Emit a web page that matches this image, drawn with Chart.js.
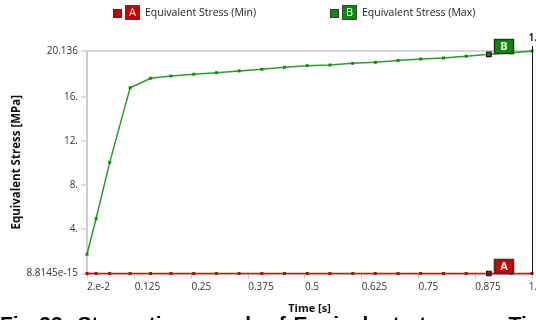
<!DOCTYPE html>
<html>
<head>
<meta charset="utf-8">
<script src="https://cdn.jsdelivr.net/npm/chart.js@4.4.1/dist/chart.umd.min.js"></script>
<style>
  html, body { margin: 0; padding: 0; background: #fff; overflow: hidden; }
  #wrap { position: relative; width: 536px; height: 320px; overflow: hidden; background: #fff; }
  #c { position: absolute; left: 0; top: 0; }
  #cap {
    position: absolute; left: 0; top: 313px; white-space: nowrap;
    font-family: "Liberation Sans", Arial, sans-serif; font-weight: bold;
    font-size: 21px; line-height: 1; word-spacing: 2px; color: #000;
  }
</style>
</head>
<body>
<div id="wrap">
  <canvas id="c" width="536" height="320"></canvas>
  <div id="cap">Fig 33: Stress-time graph of Equivalent stress vs Time</div>
</div>
<script>
// Solver output: equivalent stress vs time
const times = [0.02, 0.04, 0.07, 0.115, 0.16, 0.205, 0.255, 0.305, 0.355, 0.405, 0.455,
               0.505, 0.555, 0.605, 0.655, 0.705, 0.755, 0.805, 0.855, 0.905, 0.955, 1.0];
const stressMin = [8.8145e-15, 8.8145e-15, 8.8145e-15, 8.8145e-15, 8.8145e-15, 8.8145e-15,
                   8.8145e-15, 8.8145e-15, 8.8145e-15, 8.8145e-15, 8.8145e-15, 8.8145e-15,
                   8.8145e-15, 8.8145e-15, 8.8145e-15, 8.8145e-15, 8.8145e-15, 8.8145e-15,
                   8.8145e-15, 8.8145e-15, 8.8145e-15, 8.8145e-15];
const stressMax = [1.74, 4.96, 10.06, 16.81, 17.67, 17.87, 18.03, 18.17, 18.33, 18.48, 18.66,
                   18.81, 18.87, 19.02, 19.11, 19.28, 19.41, 19.50, 19.66, 19.84, 19.98, 20.136];
const seriesNames = ['Equivalent Stress (Min)', 'Equivalent Stress (Max)'];
const seriesTags = ['A', 'B'];
const xTicks = [0.02, 0.125, 0.25, 0.375, 0.5, 0.625, 0.75, 0.875, 1.0];
const xTickLabels = ['2.e-2', '0.125', '0.25', '0.375', '0.5', '0.625', '0.75', '0.875', '1.'];
const yTicks = [8.8145e-15, 4, 8, 12, 16, 20.136];
const yTickLabels = ['8.8145e-15', '4.', '8.', '12.', '16.', '20.136'];
const probeTime = 0.905;
const probeIndex = times.indexOf(probeTime);

const FONT = "'Open Sans', sans-serif";
Chart.defaults.font.family = FONT;

const lineColors = ['#cc1010', '#2f992f'];
const pointColors = ['#b80000', '#0f8a0f'];
const tagFill = ['#cc0000', '#0a8a0a'];

function toPoints(ys) { return times.map((t, i) => ({ x: t, y: ys[i] })); }

function makeDataset(i, ys) {
  return {
    label: seriesNames[i],
    data: toPoints(ys),
    borderColor: lineColors[i],
    backgroundColor: pointColors[i],
    borderWidth: 1.5,
    pointStyle: 'rect',
    pointRadius: ctx => ctx.dataIndex === probeIndex ? 3.2 : 2.1,
    pointBorderWidth: ctx => ctx.dataIndex === probeIndex ? 1.2 : 0,
    pointBorderColor: ctx => ctx.dataIndex === probeIndex ? '#111' : pointColors[i],
    pointBackgroundColor: pointColors[i],
    tension: 0,
    clip: false
  };
}

// Legend row with lettered tags
const legendPlugin = {
  id: 'taggedLegend',
  afterDraw(chart) {
    const ctx = chart.ctx;
    const slots = [113, 330];
    ctx.save();
    chart.data.datasets.forEach((ds, i) => {
      const x0 = slots[i];
      ctx.fillStyle = tagFill[i];
      ctx.fillRect(x0, 9, 8, 8);
      ctx.strokeStyle = '#333';
      ctx.lineWidth = 1;
      ctx.strokeRect(x0 + 0.5, 9.5, 8, 8);
      // tag box
      ctx.fillStyle = tagFill[i];
      ctx.fillRect(x0 + 12, 5, 15, 15);
      ctx.strokeStyle = '#444';
      ctx.strokeRect(x0 + 12.5, 5.5, 14, 14);
      ctx.fillStyle = '#fff';
      ctx.font = '11px ' + FONT;
      ctx.textAlign = 'center';
      ctx.textBaseline = 'middle';
      ctx.fillText(seriesTags[i], x0 + 19.5, 13);
      ctx.fillStyle = '#222';
      ctx.textAlign = 'left';
      ctx.font = '10.5px ' + FONT;
      ctx.fillText(ds.label, x0 + 32, 13.5);
    });
    ctx.restore();
  }
};

// Probe tags next to the marked time step, right frame edge
const probePlugin = {
  id: 'probeTags',
  afterDatasetsDraw(chart) {
    const ctx = chart.ctx;
    ctx.save();
    chart.data.datasets.forEach((ds, i) => {
      const el = chart.getDatasetMeta(i).data[probeIndex];
      if (!el) return;
      const bx = Math.round(el.x) + 5, by = Math.round(el.y) - 15;
      ctx.fillStyle = tagFill[i];
      ctx.fillRect(bx, by, 20, 15);
      ctx.strokeStyle = '#333';
      ctx.lineWidth = 1.5;
      ctx.strokeRect(bx + 0.5, by + 0.5, 19, 14);
      ctx.fillStyle = i === 1 ? '#f4f4d8' : '#fff';
      ctx.font = 'bold 11px ' + FONT;
      ctx.textAlign = 'center';
      ctx.textBaseline = 'middle';
      ctx.fillText(seriesTags[i], bx + 10, by + 8);
    });
    const a = chart.chartArea;
    ctx.strokeStyle = '#111';
    ctx.lineWidth = 1;
    ctx.beginPath();
    ctx.moveTo(a.right + 0.5, a.top - 5);
    ctx.lineTo(a.right + 0.5, a.bottom + 1);
    ctx.stroke();
    ctx.fillStyle = '#333';
    ctx.font = 'bold 10px ' + FONT;
    ctx.textAlign = 'right';
    ctx.textBaseline = 'middle';
    ctx.fillText(xTickLabels[xTickLabels.length - 1], 537, 38);
    ctx.restore();
  }
};

// Keep the last time label inside the canvas
const lastLabelPlugin = {
  id: 'lastLabel',
  beforeDraw(chart) {
    const sc = chart.scales.x;
    const items = sc.getLabelItems(chart.chartArea);
    const last = items[items.length - 1];
    if (last && last.options) {
      last.options.textAlign = 'right';
      last.options.translation = [537, last.options.translation[1]];
    }
  }
};

new Chart(document.getElementById('c'), {
  type: 'line',
  data: {
    datasets: [makeDataset(0, stressMin), makeDataset(1, stressMax)]
  },
  options: {
    responsive: false,
    animation: false,
    layout: { padding: { top: 51, right: -2, bottom: 0, left: 0 } },
    plugins: { legend: { display: false }, tooltip: { enabled: false } },
    scales: {
      x: {
        type: 'linear',
        min: xTicks[0],
        max: xTicks[xTicks.length - 1],
        afterBuildTicks: s => { s.ticks = xTicks.map(v => ({ value: v })); },
        afterFit: s => { s.height = 46.5; s.paddingLeft = 0; s.paddingRight = 0; },
        ticks: {
          callback: (v, i) => xTickLabels[i],
          align: 'start',
          autoSkip: false,
          maxRotation: 0,
          color: '#333',
          font: { size: 10 },
          padding: 3
        },
        grid: { drawOnChartArea: false, drawTicks: true, tickLength: 5, tickColor: '#c4c4c4' },
        border: { display: true, color: '#d0d0d0', width: 2 },
        title: {
          display: true, text: 'Time [s]', color: '#111',
          font: { size: 11, weight: 'bold' }, padding: { top: 0, bottom: 5 }
        }
      },
      y: {
        type: 'linear',
        min: yTicks[0],
        max: yTicks[yTicks.length - 1],
        afterBuildTicks: s => { s.ticks = yTicks.map(v => ({ value: v })); },
        afterFit: s => { s.width = 87; },
        ticks: {
          callback: (v, i) => yTickLabels[i],
          color: '#333',
          font: { size: 10 },
          padding: 3
        },
        grid: {
          color: ctx => (ctx.tick && ctx.tick.value === yTicks[yTicks.length - 1]) ? '#d6d6d6' : 'rgba(0,0,0,0)',
          lineWidth: 2,
          drawTicks: true,
          tickLength: 6,
          tickColor: '#c4c4c4',
          tickWidth: 1
        },
        border: { display: true, color: '#d0d0d0', width: 2 },
        title: {
          display: true, text: 'Equivalent Stress [MPa]', color: '#111',
          font: { size: 11.5, weight: 'bold' }, padding: { top: 10, bottom: 0 }
        }
      }
    }
  },
  plugins: [lastLabelPlugin, legendPlugin, probePlugin]
});
</script>
</body>
</html>
